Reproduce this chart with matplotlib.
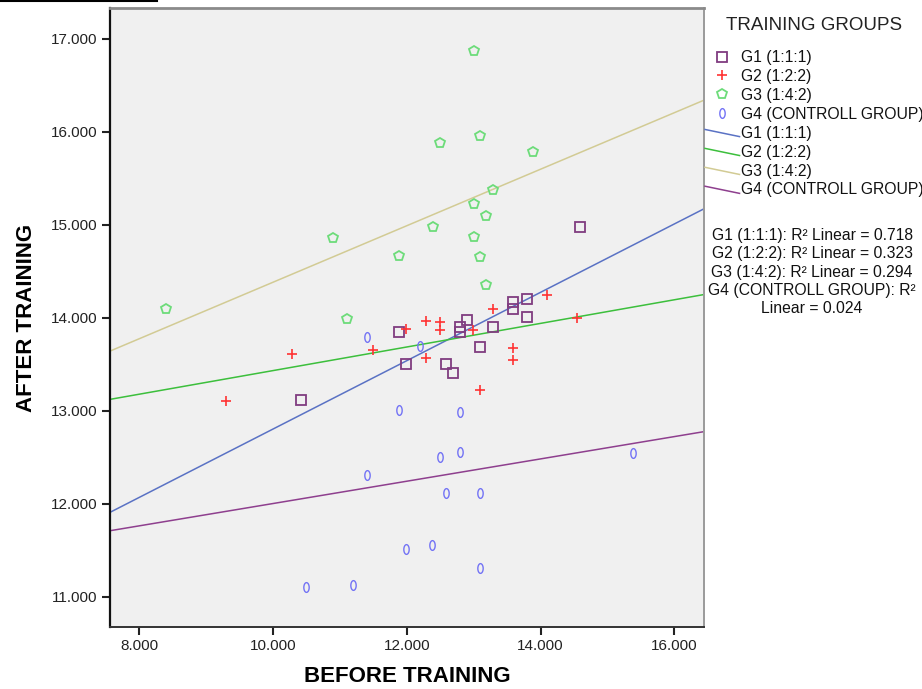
import matplotlib
matplotlib.use("Agg")
import matplotlib.pyplot as plt
import numpy as np
from matplotlib.path import Path
from matplotlib.lines import Line2D
from matplotlib.legend_handler import HandlerLine2D

plt.rcParams['font.family'] = ['Liberation Sans', 'DejaVu Sans']

# data (before, after)
g1_before = [10.42, 11.89, 11.99, 12.59, 12.69, 12.79, 12.79, 12.90, 13.09, 13.29, 13.59, 13.59, 13.79, 13.79, 14.59]
g1_after = [13.12, 13.85, 13.51, 13.51, 13.41, 13.90, 13.85, 13.98, 13.69, 13.90, 14.17, 14.10, 14.20, 14.01, 14.98]

g2_before = [9.30, 10.28, 11.49, 11.99, 12.29, 12.29, 12.49, 12.49, 12.99, 13.10, 13.29, 13.59, 13.59, 14.09, 14.54]
g2_after = [13.11, 13.61, 13.66, 13.88, 13.97, 13.57, 13.96, 13.87, 13.87, 13.23, 14.10, 13.68, 13.55, 14.25, 14.00]

g3_before = [8.40, 10.90, 11.10, 11.89, 12.39, 12.49, 13.00, 13.00, 13.00, 13.10, 13.10, 13.19, 13.19, 13.29, 13.89]
g3_after = [14.10, 14.86, 13.99, 14.67, 14.98, 15.88, 16.87, 15.23, 14.87, 15.96, 14.66, 15.10, 14.35, 15.38, 15.78]

g4_before = [11.40, 12.19, 11.89, 12.79, 11.40, 12.49, 12.79, 12.59, 13.10, 11.99, 12.38, 13.10, 10.50, 11.19, 15.38]
g4_after = [13.79, 13.70, 13.01, 12.99, 12.31, 12.51, 12.56, 12.12, 12.12, 11.52, 11.56, 11.31, 11.11, 11.13, 12.55]

group_names = ["G1 (1:1:1)", "G2 (1:2:2)", "G3 (1:4:2)", "G4 (CONTROLL GROUP)"]
r2_values = [0.718, 0.323, 0.294, 0.024]

# tall thin ellipse marker, like the SPSS "0"
t = np.linspace(0, 2 * np.pi, 40)
oval = Path(np.column_stack([0.55 * np.cos(t), np.sin(t)]), closed=True)

marker_styles = [
    dict(marker='s', mfc='none', mec='#803c80', ms=7.5, mew=1.3, ls='none'),
    dict(marker='+', color='#ff3333', ms=7, mew=1.2, ls='none'),
    dict(marker='p', mfc='none', mec='#6ddc7a', ms=7, mew=1.3, ls='none'),
    dict(marker=oval, mfc='none', mec='#7373f5', ms=7, mew=1.0, ls='none'),
]
line_colors = ['#5a72c4', '#3cbf3c', '#d2cb94', '#8e3f8e']

xlim = (7.563, 16.443)
ylim = (10.677, 17.333)

fig = plt.figure(figsize=(9.22, 6.89), dpi=100)
ax = fig.add_axes([110 / 922, 1 - 627 / 689, 594 / 922, 619 / 689])
ax.set_facecolor('#f0f0f0')

groups = [(g1_before, g1_after), (g2_before, g2_after),
          (g3_before, g3_after), (g4_before, g4_after)]

handles = []
for (bx, by), style, name in zip(groups, marker_styles, group_names):
    h, = ax.plot(bx, by, label=name, zorder=3, **style)
    handles.append(h)

xs = np.array(xlim)
for (bx, by), c, name in zip(groups, line_colors, group_names):
    k, b = np.polyfit(bx, by, 1)
    h, = ax.plot(xs, k * xs + b, color=c, lw=1.1, label=name, zorder=2)
    handles.append(h)

ax.set_xlim(*xlim)
ax.set_ylim(*ylim)
ax.set_xticks([8, 10, 12, 14, 16])
ax.set_yticks([11, 12, 13, 14, 15, 16, 17])
ax.xaxis.set_major_formatter(lambda v, p: f"{v:.3f}")
ax.yaxis.set_major_formatter(lambda v, p: f"{v:.3f}")
ax.tick_params(direction='out', length=6, width=1.5, labelsize=11, colors='#222222', pad=3)

ax.spines['left'].set_color('#111111')
ax.spines['left'].set_linewidth(1.6)
ax.spines['bottom'].set_color('#333333')
ax.spines['bottom'].set_linewidth(1.4)
ax.spines['top'].set_color('#8a8a8a')
ax.spines['top'].set_linewidth(2.0)
ax.spines['right'].set_color('#9a9a9a')
ax.spines['right'].set_linewidth(1.4)

ax.set_xlabel("BEFORE TRAINING", fontsize=16, fontweight='bold', labelpad=9)
ax.set_ylabel("AFTER TRAINING", fontsize=16, fontweight='bold', labelpad=10)


class SlantHandler(HandlerLine2D):
    # SPSS draws the fit-line swatches as a short diagonal stroke
    def create_artists(self, legend, orig_handle, xdescent, ydescent,
                       width, height, fontsize, trans):
        ln = Line2D([-xdescent, -xdescent + width],
                    [-ydescent + height * 0.75, -ydescent + height * 0.1],
                    color=orig_handle.get_color(), lw=orig_handle.get_linewidth())
        ln.set_transform(trans)
        return [ln]


handler_map = {h: SlantHandler() for h in handles[4:]}
leg = fig.legend(handles=handles, labels=[h.get_label() for h in handles],
                 handler_map=handler_map,
                 loc='upper left', bbox_to_anchor=(705 / 922, 1 - 50 / 689),
                 frameon=False, fontsize=11.3, handlelength=2.2, handletextpad=0.1,
                 labelspacing=0.25, borderpad=0, borderaxespad=0, markerscale=1.0)
for txt in leg.get_texts():
    txt.set_color('#111111')

fig.text(814 / 922, 1 - 26 / 689, "TRAINING GROUPS", ha='center', va='center',
         fontsize=13.5, color='#222222')

# fit summary, one text per row
r2_lines = [f"{n}: R² Linear = {r:.3f}" for n, r in zip(group_names[:3], r2_values[:3])]
r2_lines.append(f"{group_names[3]}: R²")
r2_lines.append(f"Linear = {r2_values[3]:.3f}")
for i, s in enumerate(r2_lines):
    fig.text(812 / 922, 1 - (240 + 18.3 * i) / 689, s, ha='center', va='baseline',
             fontsize=11.3, color='#111111')

# cut-off rule at the top left of the original page
fig.add_artist(Line2D([0, 157 / 922], [1 - 1 / 689, 1 - 1 / 689], color='black', lw=1.5))

fig.savefig("out.png", dpi=100)
